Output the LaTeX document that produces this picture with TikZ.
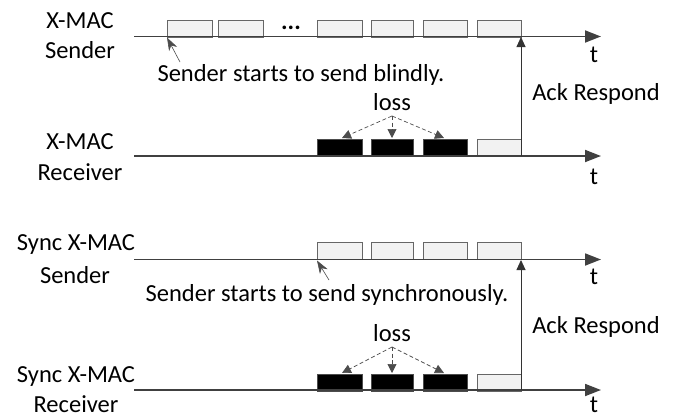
\documentclass[tikz,border=0pt]{standalone}
\usepackage{fontspec}
\setmainfont{Carlito}
\usetikzlibrary{arrows.meta}
\begin{document}
\begin{tikzpicture}[x=1pt,y=-1pt,
  lbl/.style={font=\fontsize{24.5}{27}\selectfont, inner sep=0pt, text=black},
  axis/.style={draw=black!75, line width=1.8pt, -{Triangle[length=16pt,width=12pt]}},
  pkt/.style={draw=black!60, fill=black!5, line width=0.8pt, minimum height=17pt, inner sep=0pt, anchor=north west},
  lost/.style={draw=black!70, fill=black, line width=0.8pt, minimum height=17pt, inner sep=0pt, anchor=north west},
  ack/.style={draw=black!80, line width=0.9pt, -{Triangle[length=10pt,width=9pt]}},
  lossarr/.style={draw=black!70, line width=0.7pt, dash pattern=on 4pt off 2.5pt, -{Triangle[length=9pt,width=9pt]}},
  startarr/.style={draw=black!70, line width=0.6pt, -{Stealth[length=13pt,width=9pt,inset=4pt]}}
]
\useasboundingbox (0,0) rectangle (678,418);

% ---------- X-MAC ----------
\node[lbl] (xs1) at (80,21) {X-MAC};
\node[lbl] (xs2) at (80,50) {Sender};
\node[lbl] (xr1) at (80,142) {X-MAC};
\node[lbl] (xr2) at (80,172) {Receiver};

\coordinate (xsA) at (134,36.5);
\coordinate (xsB) at (601,36.5);
\coordinate (xrA) at (134,156);
\coordinate (xrB) at (601,156);

\node[pkt, minimum width=45pt] (p1) at (167,19.5) {};
\node[pkt, minimum width=45pt] (p2) at (218,19.5) {};
\node[lbl, anchor=base] (dots) at (291,29) {\textbf{...}};
\node[pkt, minimum width=45pt] (p3) at (317,19.5) {};
\node[pkt, minimum width=42pt] (p4) at (371,19.5) {};
\node[pkt, minimum width=44pt] (p5) at (423,19.5) {};
\node[pkt, minimum width=44pt] (p6) at (477,19.5) {};

\node[lost, minimum width=45pt] (l1) at (317,139) {};
\node[lost, minimum width=42pt] (l2) at (371,139) {};
\node[lost, minimum width=44pt] (l3) at (423,139) {};
\node[pkt, minimum width=44pt] (a1) at (477,139) {};

\draw[axis] (xsA) -- (xsB);
\draw[axis] (xrA) -- (xrB);
\node[lbl] (t1) at (594,55) {t};
\node[lbl] (t2) at (594,177) {t};

\node[lbl] (blind) at (301,75) {Sender starts to send blindly.};
\coordinate (bt) at (180,62);
\coordinate (bh) at (167,37.5);
\draw[startarr] (bt) -- (bh);

\coordinate (ackA) at (521,156);
\coordinate (ackB) at (521,37);
\draw[ack] (ackA) -- (ackB);
\node[lbl] (ack1) at (596,94) {Ack Respond};

\node[lbl] (loss1) at (392,102) {loss};
\coordinate (lo1) at (392,116);
\coordinate (lt1) at (342,138);
\coordinate (lt2) at (392,138);
\coordinate (lt3) at (444,138);
\draw[lossarr] (lo1) -- (lt1);
\draw[lossarr] (lo1) -- (lt2);
\draw[lossarr] (lo1) -- (lt3);

% ---------- Sync X-MAC ----------
\node[lbl] (ss1) at (76,245) {Sync X-MAC};
\node[lbl] (ss2) at (75,275) {Sender};
\node[lbl] (sr1) at (76,377) {Sync X-MAC};
\node[lbl] (sr2) at (76,404) {Receiver};

\coordinate (ssA) at (134,259.5);
\coordinate (ssB) at (601,259.5);
\coordinate (srA) at (134,390);
\coordinate (srB) at (601,390);

\node[pkt, minimum width=45pt] (q3) at (317,241.5) {};
\node[pkt, minimum width=42pt] (q4) at (371,241.5) {};
\node[pkt, minimum width=44pt] (q5) at (423,241.5) {};
\node[pkt, minimum width=44pt] (q6) at (477,241.5) {};

\node[lost, minimum width=45pt] (m1) at (317,373.5) {};
\node[lost, minimum width=42pt] (m2) at (371,373.5) {};
\node[lost, minimum width=44pt] (m3) at (423,373.5) {};
\node[pkt, minimum width=44pt] (b1) at (477,373.5) {};

\draw[axis] (ssA) -- (ssB);
\draw[axis] (srA) -- (srB);
\node[lbl] (t3) at (594,277) {t};
\node[lbl] (t4) at (594,405) {t};

\node[lbl] (sync) at (327,295) {Sender starts to send synchronously.};
\coordinate (st) at (329,280);
\coordinate (sh) at (317,260.5);
\draw[startarr] (st) -- (sh);

\coordinate (ackC) at (521,390);
\coordinate (ackD) at (521,260);
\draw[ack] (ackC) -- (ackD);
\node[lbl] (ack2) at (596,327) {Ack Respond};

\node[lbl] (loss2) at (392,333) {loss};
\coordinate (lo2) at (392,347);
\coordinate (lu1) at (342,373);
\coordinate (lu2) at (392,373);
\coordinate (lu3) at (444,373);
\draw[lossarr] (lo2) -- (lu1);
\draw[lossarr] (lo2) -- (lu2);
\draw[lossarr] (lo2) -- (lu3);
\end{tikzpicture}
\end{document}
